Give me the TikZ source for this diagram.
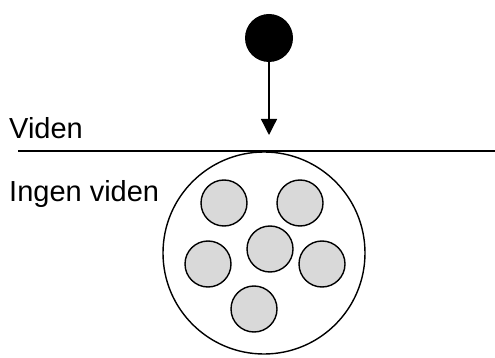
\documentclass[tikz,border=0pt]{standalone}
\usepackage{fontspec}
\setmainfont{Liberation Sans}
\usetikzlibrary{arrows.meta}
\begin{document}
\begin{tikzpicture}[x=1pt, y=-1pt, font=\fontsize{29}{32}\selectfont,
    ball/.style={circle, fill=black, inner sep=0pt, minimum size=48pt},
    ring/.style={circle, draw, line width=1.4pt, inner sep=0pt, minimum size=202pt},
    dot/.style={circle, draw, line width=1.4pt, fill=black!15, inner sep=0pt, minimum size=46pt}]
      \useasboundingbox (0,0) rectangle (495,358);

      % Labels on the left
      \node[anchor=base west, inner sep=0pt] (viden) at (9,139) {Viden};
      \node[anchor=base west, inner sep=0pt] (ingen) at (9,201) {Ingen viden};

      % Dividing line
      \coordinate (lineL) at (18,151);
      \coordinate (lineR) at (495,151);
      \draw[line width=1.5pt] (lineL) -- (lineR);

      % Black ball with arrow down to the line
      \node[ball] (top) at (269,38) {};
      \coordinate (tip) at (269,135);
      \draw[line width=1.3pt, -{Triangle[length=16pt, width=16pt]}] (top.south) -- (tip);

      % Big circle below the line
      \node[ring] (big) at (264,253) {};

      % Small grey circles inside
      \foreach \name/\px/\py in {d1/224/203, d2/300/203, d3/270/249,
                                 d4/208/264, d5/322/264, d6/254/309} {
        \node[dot] (\name) at (\px,\py) {};
      }
    \end{tikzpicture}
\end{document}
